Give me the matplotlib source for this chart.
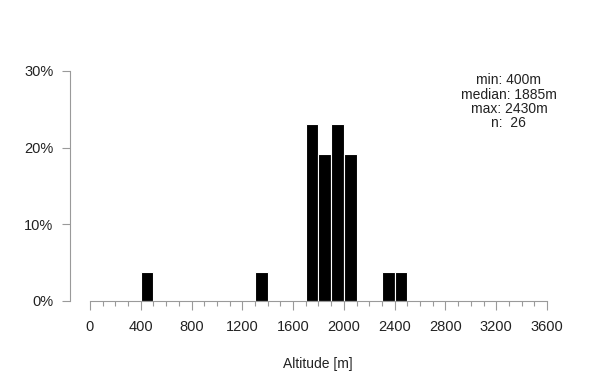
import matplotlib
matplotlib.use('Agg')
import matplotlib.pyplot as plt
import numpy as np

plt.rcParams['font.family'] = ['Liberation Sans', 'DejaVu Sans']

# histogram bins (100 m) and counts
bin_starts = [400, 1300, 1700, 1800, 1900, 2000, 2300, 2400]
counts = [1, 1, 6, 5, 6, 5, 1, 1]
n_total = 26
stats_lines = ["min: 400m", "median: 1885m", "max: 2430m", "n:  26"]
x_major = list(range(0, 3601, 400))
x_minor = list(range(0, 3601, 100))
y_ticks = [0, 0.10, 0.20, 0.30]
y_labels = ["0%", "10%", "20%", "30%"]

AXIS = '#9a9a9a'
TEXT = '#222222'

fig = plt.figure(figsize=(6, 3.9), dpi=100)
ax = fig.add_axes([70 / 600, 89 / 390, 477 / 600, 230 / 390])

shares = np.array(counts) / n_total
ax.bar(bin_starts, shares, width=100, align='edge', color='black',
       edgecolor='white', linewidth=0.8)

ax.set_xlim(-157.5, 3600)
ax.set_ylim(0, 0.30)

for side in ['top', 'right']:
    ax.spines[side].set_visible(False)
ax.spines['bottom'].set_bounds(0, 3600)
ax.spines['left'].set_bounds(0, 0.30)
for side in ['bottom', 'left']:
    ax.spines[side].set_color(AXIS)
    ax.spines[side].set_linewidth(0.8)

ax.set_xticks(x_major)
ax.set_xticks(x_minor, minor=True)
ax.set_yticks(y_ticks)
ax.set_yticklabels(y_labels)
ax.tick_params(axis='x', which='major', length=6.5, width=0.8, color=AXIS,
               labelsize=10.5, labelcolor=TEXT, pad=7.5)
ax.tick_params(axis='x', which='minor', length=3.6, width=0.8, color=AXIS)
ax.tick_params(axis='y', length=6, width=0.8, color=AXIS,
               labelsize=10.5, labelcolor=TEXT, pad=6)

ax.set_xlabel("Altitude [m]", fontsize=10, color=TEXT)
ax.xaxis.set_label_coords((318 - 70) / 477, -56 / 230)

ax.text(3300, 0.297, "\n".join(stats_lines), ha='center', va='top',
        fontsize=10, color=TEXT, linespacing=1.02, clip_on=False)

fig.savefig('out.png', dpi=100)
